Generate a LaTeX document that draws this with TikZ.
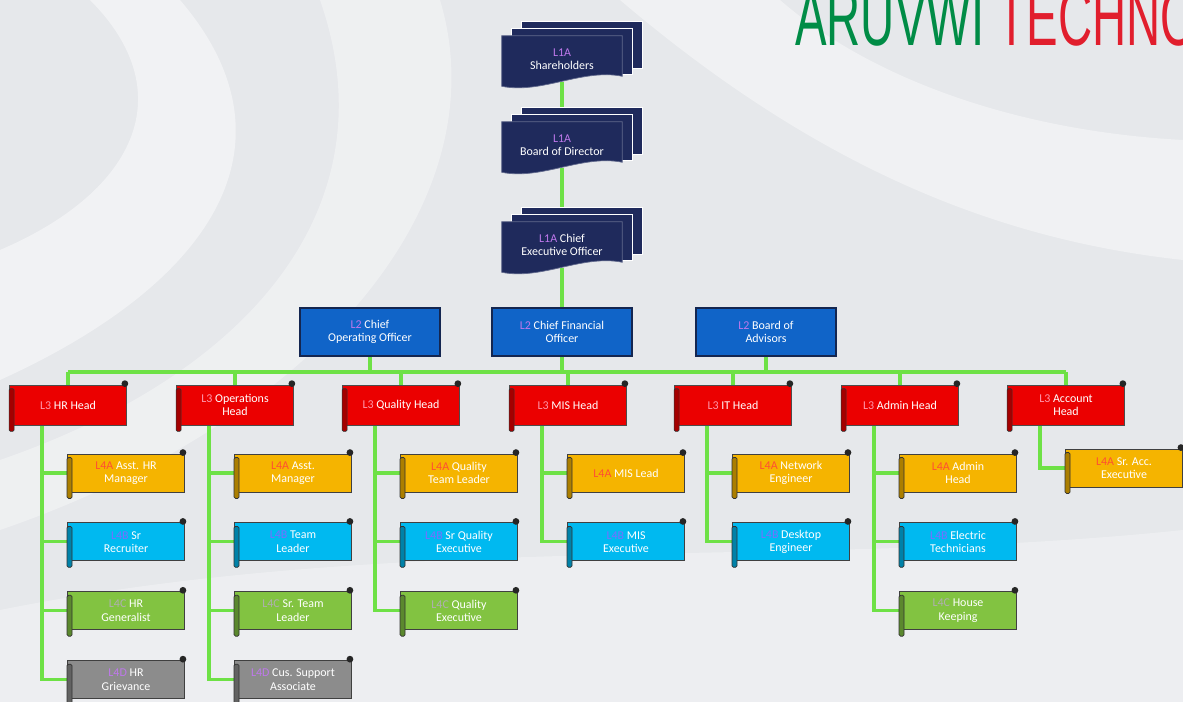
\documentclass[tikz,border=0pt]{standalone}
\usepackage{fontspec}
\setmainfont{Carlito}
\newfontfamily\titlefont{Liberation Sans}
\usepackage{graphicx}
\usetikzlibrary{positioning,calc}

\definecolor{paper}{RGB}{230,232,235}
\definecolor{navy}{RGB}{31,42,92}
\definecolor{cxoblue}{RGB}{16,100,200}
\definecolor{cxoedge}{RGB}{20,38,80}
\definecolor{headred}{RGB}{235,0,0}
\definecolor{ylw}{RGB}{245,180,0}
\definecolor{cyn}{RGB}{0,185,240}
\definecolor{grn}{RGB}{130,195,65}
\definecolor{gry}{RGB}{140,140,140}
\definecolor{linkgreen}{RGB}{110,225,70}
\definecolor{titlegreen}{RGB}{0,140,70}
\definecolor{titlered}{RGB}{225,30,45}
\definecolor{previolet}{RGB}{190,120,235}
\definecolor{prepink}{RGB}{255,150,170}
\definecolor{prered}{RGB}{255,80,50}
\definecolor{preblue}{RGB}{120,110,255}
\definecolor{pregrey}{RGB}{175,175,175}

\newcommand{\pre}[2]{\textcolor{#1}{#2}}
\newcommand{\boxfont}{\fontsize{8.5}{9.5}\selectfont}

% rolled ends of a scroll box
\newcommand{\scrollends}[2]{%
  \filldraw[fill=#2!70!black, draw=black!80, line width=0.5pt, rounded corners=1pt]
    ([shift={(0,4)}]#1.north west) rectangle ([shift={(5,6)}]#1.south west);
  \fill[black!85] ([shift={(-2,-1)}]#1.north east) circle (2.4pt);
}
% stacked pages with a wavy front sheet
\newcommand{\pagestack}[1]{%
  \filldraw[fill=navy, draw=white, line width=0.8pt]
    ([shift={(20,-14)}]#1.north west) rectangle ([shift={(20,-14)}]#1.south east);
  \filldraw[fill=navy, draw=white, line width=0.8pt]
    ([shift={(10,-7)}]#1.north west) rectangle ([shift={(10,-8)}]#1.south east);
  \filldraw[fill=navy, draw=navy!70!white, line width=0.5pt]
    (#1.north west) -- (#1.north east) -- ([shift={(0,-6)}]#1.south east)
    .. controls ([shift={(-40,-14)}]#1.south east) and ([shift={(40,12)}]#1.south west)
    .. ([shift={(0,4)}]#1.south west) -- cycle;
}

\pgfdeclarelayer{paperlayer}
\pgfdeclarelayer{links}
\pgfdeclarelayer{stacks}
\pgfsetlayers{paperlayer,links,stacks,main}

\begin{document}
\begin{tikzpicture}[x=0.025cm, y=-0.025cm, node distance=0.75cm,
    topbox/.style={minimum width=3cm, minimum height=1.15cm, text=white,
      align=center, font=\boxfont, inner sep=1pt},
    cxo/.style={fill=cxoblue, draw=cxoedge, line width=1.2pt, minimum width=3.5cm,
      minimum height=1.2cm, text=white, align=center, font=\boxfont, inner sep=1pt},
    head/.style={fill=headred, draw=black!70, line width=0.5pt, minimum width=2.925cm,
      minimum height=1cm, text=white, align=center, font=\boxfont, inner sep=1pt},
    role/.style={draw=black!75, line width=0.6pt, minimum width=2.925cm,
      minimum height=0.95cm, text=white, align=center, font=\boxfont, inner sep=1pt},
    yrole/.style={role, fill=ylw},
    crole/.style={role, fill=cyn},
    grole/.style={role, fill=grn},
    srole/.style={role, fill=gry},
    link/.style={draw=linkgreen, line width=2.2pt}]
    \useasboundingbox (0,0) rectangle (1183,702);
    \clip (0,0) rectangle (1183,702);

    % title, cut by the page edge
    \node[anchor=base west, inner sep=0pt, text=titlegreen,
      font=\titlefont\fontsize{58}{58}\selectfont] (TT) at (795,46)
      {\scalebox{0.58}[1]{ARUVWI \textcolor{titlered}{TECHNO}}};

    % top levels
    \node[topbox] (SH) at (562,59) {\pre{previolet}{L1A}\\Shareholders};
    \node[topbox] (BD) at (562,145) {\pre{previolet}{L1A}\\Board of Director};
    \node[topbox] (CEO) at (562,245) {\pre{previolet}{L1A} Chief\\Executive Officer};

    \node[cxo] (COO) at (370,332) {\pre{previolet}{L2} Chief\\Operating Officer};
    \node[cxo] (CFO) at (562,332) {\pre{previolet}{L2} Chief Financial\\Officer};
    \node[cxo] (BA) at (766,332) {\pre{previolet}{L2} Board of\\Advisors};

    \coordinate (bus) at (0,372);

    % heads
    \node[head] (HR) at (68,405) {\pre{prepink}{L3} HR Head};
    \node[head] (OP) at (235,405) {\pre{prepink}{L3} Operations\\Head};
    \node[head] (QH) at (401,405) {\pre{prepink}{L3} Quality Head};
    \node[head] (MH) at (568,405) {\pre{prepink}{L3} MIS Head};
    \node[head] (IT) at (733,405) {\pre{prepink}{L3} IT Head};
    \node[head] (AH) at (900,405) {\pre{prepink}{L3} Admin Head};
    \node[head] (AC) at (1066,405) {\pre{prepink}{L3} Account\\Head};

    % HR
    \node[yrole] (HR1) at (126,473) {\pre{prered}{L4A} Asst. HR\\Manager};
    \node[crole] (HR2) [below=of HR1] {\pre{preblue}{L4B} Sr\\Recruiter};
    \node[grole] (HR3) [below=of HR2] {\pre{pregrey}{L4C} HR\\Generalist};
    \node[srole] (HR4) [below=of HR3] {\pre{previolet}{L4D} HR\\Grievance};
    % operations
    \node[yrole] (OP1) at (293,473) {\pre{prered}{L4A} Asst.\\Manager};
    \node[crole] (OP2) [below=of OP1] {\pre{preblue}{L4B} Team\\Leader};
    \node[grole] (OP3) [below=of OP2] {\pre{pregrey}{L4C} Sr. Team\\Leader};
    \node[srole] (OP4) [below=of OP3] {\pre{previolet}{L4D} Cus. Support\\Associate};
    % quality
    \node[yrole] (QH1) at (459,473) {\pre{prered}{L4A} Quality\\Team Leader};
    \node[crole] (QH2) [below=of QH1] {\pre{preblue}{L4B} Sr Quality\\Executive};
    \node[grole] (QH3) [below=of QH2] {\pre{pregrey}{L4C} Quality\\Executive};
    % MIS
    \node[yrole] (MH1) at (626,473) {\pre{prered}{L4A} MIS Lead};
    \node[crole] (MH2) [below=of MH1] {\pre{preblue}{L4B} MIS\\Executive};
    % IT
    \node[yrole] (IT1) at (791,473) {\pre{prered}{L4A} Network\\Engineer};
    \node[crole] (IT2) [below=of IT1] {\pre{preblue}{L4B} Desktop\\Engineer};
    % admin
    \node[yrole] (AH1) at (958,473) {\pre{prered}{L4A} Admin\\Head};
    \node[crole] (AH2) [below=of AH1] {\pre{preblue}{L4B} Electric\\Technicians};
    \node[grole] (AH3) [below=of AH2] {\pre{pregrey}{L4C} House\\Keeping};
    % account
    \node[yrole] (AC1) at (1124,468) {\pre{prered}{L4A} Sr. Acc.\\Executive};

    \foreach \n/\c in {HR/headred, OP/headred, QH/headred, MH/headred, IT/headred,
        AH/headred, AC/headred, HR1/ylw, HR2/cyn, HR3/grn, HR4/gry, OP1/ylw, OP2/cyn,
        OP3/grn, OP4/gry, QH1/ylw, QH2/cyn, QH3/grn, MH1/ylw, MH2/cyn, IT1/ylw, IT2/cyn,
        AH1/ylw, AH2/cyn, AH3/grn, AC1/ylw}
      {\scrollends{\n}{\c}}

    \begin{pgfonlayer}{stacks}
      \pagestack{SH}
      \pagestack{BD}
      \pagestack{CEO}
    \end{pgfonlayer}

    \begin{pgfonlayer}{links}
      \draw[link] (SH.south) -- (BD.north);
      \draw[link] (BD.south) -- (CEO.north);
      \draw[link] (CEO.south) -- (CFO.north);
      \foreach \t in {COO,CFO,BA}
        \draw[link] (\t.south) -- (\t.south |- bus);
      \draw[link] (HR.north |- bus) -- (AC.north |- bus);
      \foreach \h in {HR,OP,QH,MH,IT,AH,AC}
        \draw[link] (\h.north) -- (\h.north |- bus);
      \foreach \h/\c in {HR/HR1, HR/HR2, HR/HR3, HR/HR4, OP/OP1, OP/OP2, OP/OP3, OP/OP4,
          QH/QH1, QH/QH2, QH/QH3, MH/MH1, MH/MH2, IT/IT1, IT/IT2,
          AH/AH1, AH/AH2, AH/AH3, AC/AC1}
        \draw[link] ([shift={(-26,0)}]\h.south) |- (\c.west);
    \end{pgfonlayer}

    \begin{pgfonlayer}{paperlayer}
      \fill[paper] (0,0) rectangle (1183,702);
      \fill[white, opacity=0.45] (180,0) .. controls (300,140) and (220,280) .. (0,380)
        -- (0,250) .. controls (140,190) and (180,90) .. (90,0) -- cycle;
      \fill[white, opacity=0.35] (440,0) .. controls (500,200) and (320,420) .. (0,530)
        -- (0,460) .. controls (260,370) and (390,200) .. (320,0) -- cycle;
      \fill[white, opacity=0.4] (620,0) .. controls (820,170) and (1000,240) .. (1183,260)
        -- (1183,140) .. controls (1000,130) and (860,70) .. (780,0) -- cycle;
      \fill[white, opacity=0.3] (0,610) .. controls (400,530) and (800,570) .. (1183,530)
        -- (1183,702) -- (0,702) -- cycle;
    \end{pgfonlayer}
\end{tikzpicture}
\end{document}
